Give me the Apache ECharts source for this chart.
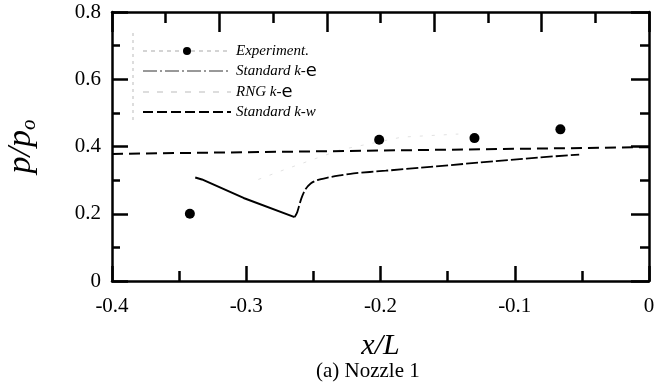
<!DOCTYPE html>
<html>
<head>
<meta charset="utf-8">
<script src="https://cdn.jsdelivr.net/npm/echarts@6/dist/echarts.min.js"></script>
<style>
  html, body { margin: 0; padding: 0; background: #fff; }
  #chart { width: 660px; height: 390px; }
</style>
</head>
<body>
<div id="chart"></div>
<script>
// experiment points
const expX = [-0.342, -0.201, -0.130, -0.066];
const expY = [0.200, 0.420, 0.425, 0.451];

// Standard k-e : solid part down to the dip, then dashed part
const keSolidX = [-0.338, -0.333, -0.302, -0.264];
const keSolidY = [0.308, 0.302, 0.247, 0.190];
const keDashX = [-0.264, -0.262, -0.259, -0.256, -0.252, -0.247, -0.240, -0.230, -0.220, -0.196, -0.170, -0.127, -0.083, -0.052];
const keDashY = [0.190, 0.205, 0.245, 0.272, 0.290, 0.300, 0.307, 0.314, 0.320, 0.328, 0.337, 0.352, 0.367, 0.376];

// RNG k-e (very faint in the scan)
const rngX = [-0.291, -0.271, -0.230, -0.184, -0.142];
const rngY = [0.302, 0.332, 0.390, 0.428, 0.437];

// Standard k-w
const kwX = [-0.4, 0];
const kwY = [0.378, 0.398];

const zip = (xs, ys) => xs.map((x, i) => [x, ys[i]]);

const serif = 'Liberation Serif';
const chart = echarts.init(document.getElementById('chart'), null, { renderer: 'canvas' });

const fmt = (v) => (v === 0 ? '0' : v.toFixed(1));

// frame axis: black line, ticks pointing into the plot
const frameAxis = (position, majorLen, minorLen) => ({
  type: 'value',
  position: position,
  axisLine: { show: true, onZero: false, lineStyle: { color: '#000', width: 2.5 } },
  axisTick: { show: true, inside: true, length: majorLen, lineStyle: { color: '#000', width: 2.5 } },
  minorTick: { show: true, splitNumber: 2, length: minorLen, lineStyle: { color: '#000', width: 2.5 } },
  splitLine: { show: false },
});

const option = {
  backgroundColor: '#fff',
  animation: false,
  grid: { left: 112, right: 11, top: 12, bottom: 109, outerBoundsMode: 'none' },
  legend: {
    orient: 'vertical',
    left: 137,
    top: 38,
    itemWidth: 88,
    itemHeight: 10,
    itemGap: 3,
    textStyle: {
      fontFamily: serif,
      fontStyle: 'italic',
      fontSize: 15,
      lineHeight: 16,
      color: '#000',
      rich: {
        e: { fontFamily: 'DejaVu Sans', fontStyle: 'normal', fontSize: 18, lineHeight: 16, color: '#000' },
      },
    },
    formatter: (name) => name.replace('k-e', 'k-{e|e}'),
    data: [
      { name: 'Experiment.', lineStyle: { opacity: 1, color: '#aaa', width: 1, type: [4, 4] } },
      { name: 'Standard k-e', lineStyle: { color: '#333', width: 1, type: [14, 3, 2, 3] }, itemStyle: { opacity: 0 } },
      { name: 'RNG k-e', lineStyle: { color: '#bbb', width: 1, type: [6, 8] }, itemStyle: { opacity: 0 } },
      { name: 'Standard k-w', lineStyle: { color: '#000', width: 2, type: [10, 4] }, itemStyle: { opacity: 0 } },
    ],
  },
  xAxis: [
    Object.assign(frameAxis('bottom', 15, 10), {
      min: -0.4,
      max: 0,
      interval: 0.1,
      name: 'x/L',
      nameLocation: 'middle',
      nameGap: 50,
      nameTextStyle: { fontFamily: serif, fontStyle: 'italic', fontSize: 30, color: '#000' },
      axisLabel: { fontFamily: serif, fontSize: 21, color: '#000', margin: 15, formatter: fmt },
    }),
    Object.assign(frameAxis('top', 20, 11), {
      min: 0,
      max: 1,
      interval: 0.2,
      axisLabel: { show: false },
    }),
  ],
  yAxis: [
    Object.assign(frameAxis('left', 16, 8), {
      min: 0,
      max: 0.8,
      interval: 0.2,
      name: 'p/p{sub|o}',
      nameLocation: 'middle',
      nameGap: 72,
      nameRotate: 90,
      nameTextStyle: {
        fontFamily: serif,
        fontStyle: 'italic',
        fontSize: 34,
        lineHeight: 38,
        color: '#000',
        rich: {
          sub: { fontFamily: serif, fontStyle: 'italic', fontSize: 21, lineHeight: 20, verticalAlign: 'bottom', color: '#000' },
        },
      },
      axisLabel: { fontFamily: serif, fontSize: 21, color: '#000', margin: 11, formatter: fmt },
    }),
    Object.assign(frameAxis('right', 18, 9), {
      min: 0,
      max: 0.8,
      interval: 0.2,
      axisLabel: { show: false },
    }),
  ],
  graphic: [
    {
      type: 'line',
      shape: { x1: 133, y1: 33, x2: 133, y2: 120 },
      style: { stroke: '#bbb', lineWidth: 1, lineDash: [3, 4] },
    },
    {
      type: 'text',
      left: 316,
      top: 361,
      style: { text: '(a) Nozzle 1', font: '21px "Liberation Serif"', fill: '#000' },
    },
  ],
  series: [
    {
      name: 'Experiment.',
      type: 'line',
      data: zip(expX, expY),
      symbol: 'circle',
      symbolSize: 10,
      showSymbol: true,
      lineStyle: { opacity: 0 },
      itemStyle: { color: '#000' },
      z: 5,
    },
    {
      name: 'Standard k-e',
      type: 'line',
      data: zip(keSolidX, keSolidY),
      symbol: 'none',
      lineStyle: { color: '#000', width: 2 },
      itemStyle: { color: '#000' },
    },
    {
      name: 'Standard k-e',
      type: 'line',
      data: zip(keDashX, keDashY),
      symbol: 'none',
      smooth: 0.3,
      lineStyle: { color: '#000', width: 1.8, type: [12, 3] },
      itemStyle: { color: '#000' },
    },
    {
      name: 'RNG k-e',
      type: 'line',
      data: zip(rngX, rngY),
      symbol: 'none',
      lineStyle: { color: '#e2e2e2', width: 1, type: [3, 9] },
      itemStyle: { color: '#ccc' },
    },
    {
      name: 'Standard k-w',
      type: 'line',
      data: zip(kwX, kwY),
      symbol: 'none',
      lineStyle: { color: '#000', width: 2, type: [11, 6] },
      itemStyle: { color: '#000' },
    },
  ],
};

chart.setOption(option);
window.addEventListener('resize', chart.resize);
</script>
</body>
</html>
